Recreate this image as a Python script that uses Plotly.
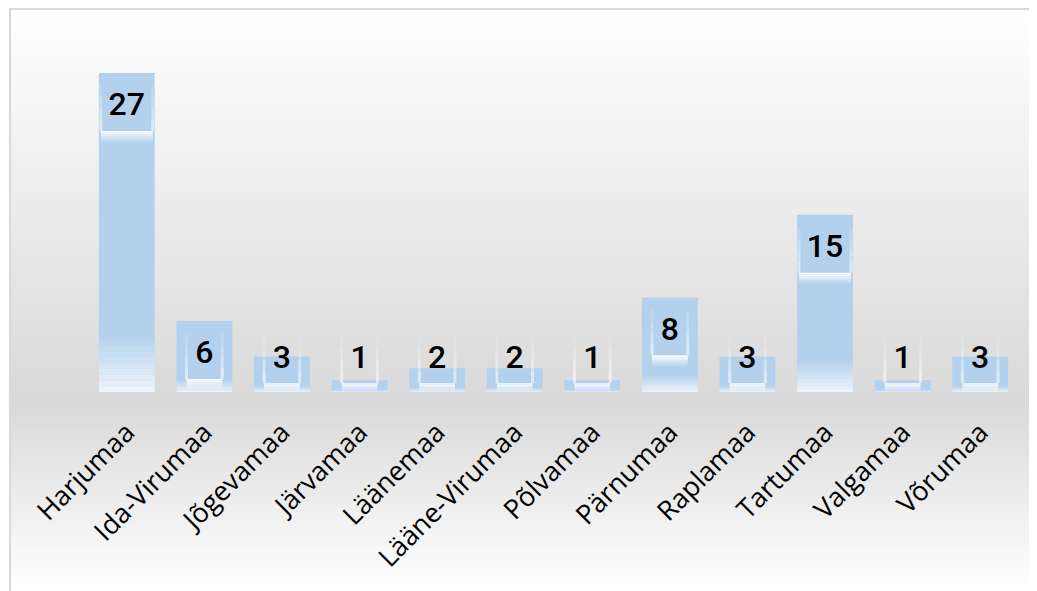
import plotly.graph_objects as go

# ---- data ----
counties = ["Harjumaa", "Ida-Virumaa", "Jõgevamaa", "Järvamaa", "Läänemaa",
            "Lääne-Virumaa", "Põlvamaa", "Pärnumaa", "Raplamaa", "Tartumaa",
            "Valgamaa", "Võrumaa"]
counts = [27, 6, 3, 1, 2, 2, 1, 8, 3, 15, 1, 3]

# ---- layout geometry (page body adds an 8px offset) ----
OFF = 8
W, H = 1037, 591
L, R, T, B = 88 - OFF, 18 + OFF, 73 - OFF, 199 + OFF
pw = W - L - R
ph = H - T - B


def pxx(x):
    return (x - OFF - L) / pw


def pyy(y):
    return (H - B - (y - OFF)) / ph


shapes = []

# background gradient (white -> grey -> white)
top_px, mid_px, bot_px = 10, 400, 595
n = 60
for i in range(n):
    y0 = top_px + (mid_px - top_px) * i / n
    y1 = top_px + (mid_px - top_px) * (i + 1) / n + 0.6
    t = (i + 0.5) / n
    c = round(255 - (255 - 217) * t)
    shapes.append(dict(type="rect", xref="paper", yref="paper", layer="below",
                       x0=pxx(11), x1=pxx(1045), y0=pyy(y0), y1=pyy(y1),
                       line=dict(width=0), fillcolor=f"rgb({c},{c},{c})"))
n2 = 40
for i in range(n2):
    y0 = mid_px + (bot_px - mid_px) * i / n2
    y1 = mid_px + (bot_px - mid_px) * (i + 1) / n2 + 0.6
    t = (i + 0.5) / n2
    c = round(217 + (255 - 217) * min(1, t * 1.05))
    shapes.append(dict(type="rect", xref="paper", yref="paper", layer="below",
                       x0=pxx(11), x1=pxx(1045), y0=pyy(y0), y1=pyy(y1),
                       line=dict(width=0), fillcolor=f"rgb({c},{c},{c})"))

# chart frame
shapes.append(dict(type="rect", xref="paper", yref="paper", layer="above",
                   x0=pxx(10), x1=pxx(1037.5), y0=pyy(9), y1=pyy(610),
                   line=dict(color="#d9d9d9", width=2), fillcolor="rgba(0,0,0,0)"))

bar_w = 0.72
label_y = []
for i, v in enumerate(counts):
    # bottom fade of each bar
    gh = 0.18 * v
    k = 10
    for j in range(k):
        shapes.append(dict(type="rect", xref="x", yref="y", layer="above",
                           x0=i - bar_w / 2, x1=i + bar_w / 2,
                           y0=gh * j / k, y1=gh * (j + 1) / k,
                           line=dict(width=0), fillcolor="white",
                           opacity=0.8 * (1 - (j + 0.5) / k)))
    # label box
    nd = len(str(v))
    hw = 0.125 + 0.105 * nd
    bb = max(v - 4.9, 0.75)
    bt = bb + 3.8
    label_y.append(bb + 2.0)
    # white glow under the label box
    gl = 0.9
    g0 = max(bb - gl, 0)
    steps = 6
    for j in range(steps):
        ya = bb - (bb - g0) * j / steps
        yb = bb - (bb - g0) * (j + 1) / steps
        shapes.append(dict(type="rect", xref="x", yref="y", layer="above",
                           x0=i - hw, x1=i + hw, y0=yb, y1=ya,
                           line=dict(width=0), fillcolor="white",
                           opacity=0.95 * (1 - j / steps)))
    # soft edges of the label box
    for side in (-1, 1):
        for j in range(4):
            ya = bb + (bt - bb) * j / 4
            yb = bb + (bt - bb) * (j + 1) / 4
            shapes.append(dict(type="line", xref="x", yref="y", layer="above",
                               x0=i + side * hw, x1=i + side * hw, y0=ya, y1=yb,
                               line=dict(color="white", width=3),
                               opacity=0.55 * (1 - j / 4)))

fig = go.Figure()
fig.add_trace(go.Bar(x=counties, y=counts, width=bar_w,
                     marker=dict(color="#b3d1ed", line=dict(width=0)),
                     hoverinfo="x+y"))
fig.add_trace(go.Scatter(x=counties, y=label_y, mode="text",
                         text=[str(v) for v in counts],
                         textfont=dict(family="Roboto", size=32, color="black",
                                       weight=500),
                         hoverinfo="skip", cliponaxis=False))

fig.update_layout(
    width=W, height=H,
    margin=dict(l=L, r=R, t=T, b=B),
    paper_bgcolor="white",
    plot_bgcolor="rgba(0,0,0,0)",
    showlegend=False,
    shapes=shapes,
    xaxis=dict(tickangle=-45, showgrid=False, showline=False, zeroline=False,
               ticks="", ticklabelstandoff=18,
               tickfont=dict(family="Open Sans", size=27, color="black"),
               range=[-0.5, len(counties) - 0.5]),
    yaxis=dict(visible=False, range=[0, 27], fixedrange=True),
)

fig.write_html("out.html")
